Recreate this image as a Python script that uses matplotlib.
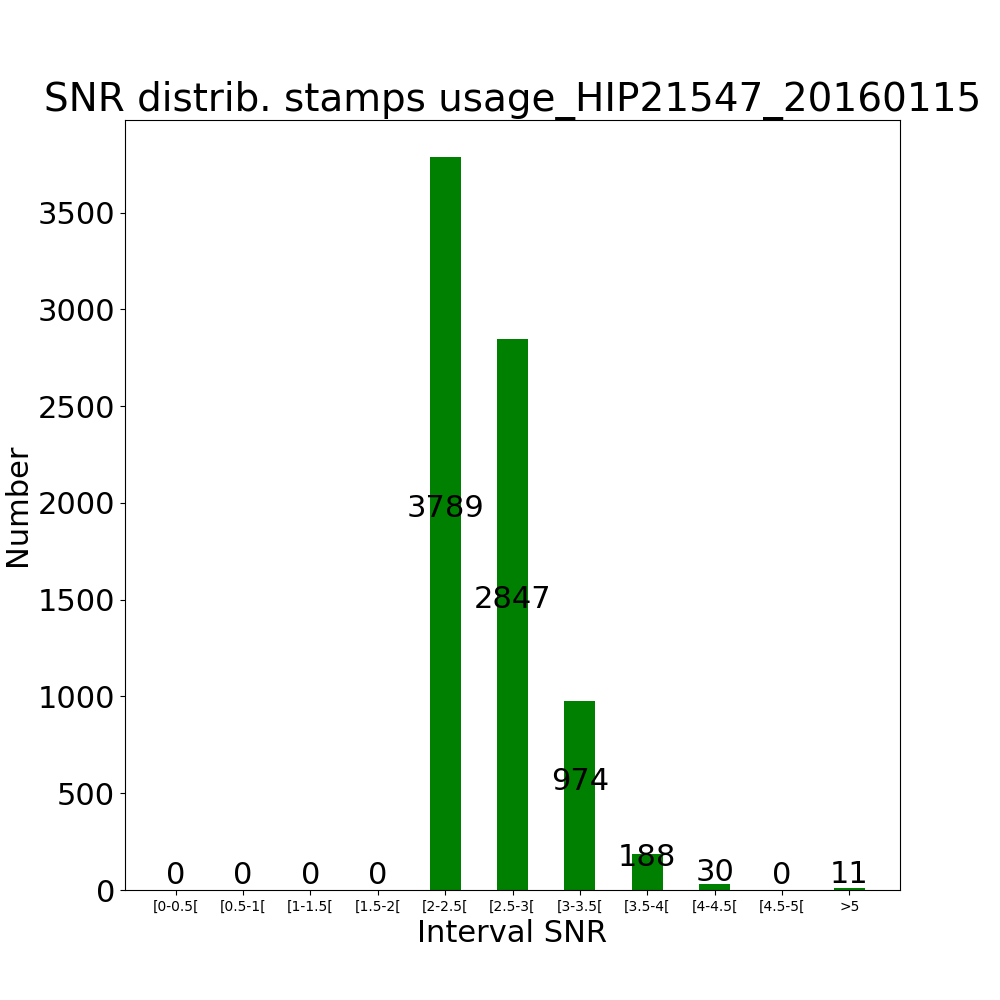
import matplotlib
matplotlib.use("Agg")
import matplotlib.pyplot as plt

categories = ["[0-0.5[", "[0.5-1[", "[1-1.5[", "[1.5-2[", "[2-2.5[", "[2.5-3[",
              "[3-3.5[", "[3.5-4[", "[4-4.5[", "[4.5-5[", ">5"]
values = [0, 0, 0, 0, 3789, 2847, 974, 188, 30, 0, 11]

fig, ax = plt.subplots(figsize=(10, 10), dpi=100)
x = range(len(categories))
ax.bar(x, values, width=0.46, color="green")
for xi, v in zip(x, values):
    ax.text(xi, v / 2, str(v), ha="center", va="bottom", fontsize=22)
ax.set_xticks(list(x))
ax.set_xticklabels(categories, fontsize=10)
ax.tick_params(axis="y", labelsize=22)
ax.set_xlabel("Interval SNR", fontsize=22)
ax.set_ylabel("Number", fontsize=22)
ax.set_title("SNR distrib. stamps usage_HIP21547_20160115", fontsize=28)
fig.savefig("out.png")
